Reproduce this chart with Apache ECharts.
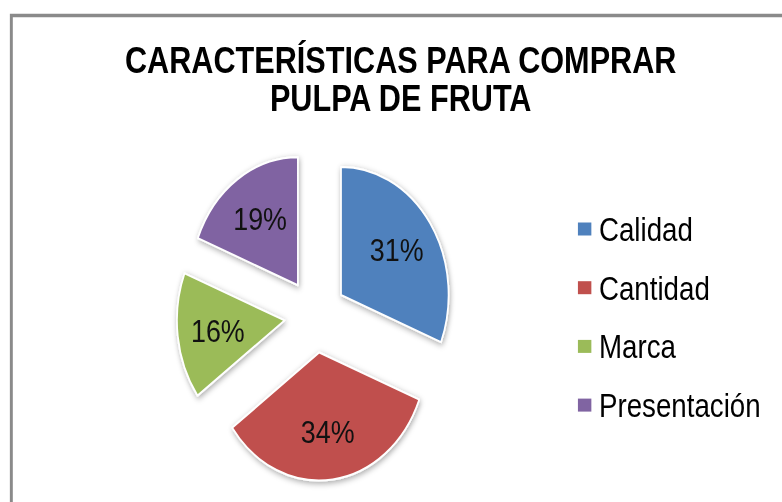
<!DOCTYPE html>
<html>
<head>
<meta charset="utf-8">
<script src="https://cdn.jsdelivr.net/npm/echarts@6/dist/echarts.min.js"></script>
<style>
  html, body { margin: 0; padding: 0; background: #ffffff; overflow: hidden; }
  #wrap { width: 782px; height: 502px; overflow: hidden; position: relative; }
  #chart { width: 931px; height: 502px; transform: scaleX(0.84); transform-origin: 0 0; }
</style>
</head>
<body>
<div id="wrap"><div id="chart"></div></div>
<script>
const titleText = 'CARACTERÍSTICAS PARA COMPRAR\nPULPA DE FRUTA';
const categories = ['Calidad', 'Cantidad', 'Marca', 'Presentación'];
const values = [31, 34, 16, 19];
const colors = ['#4F81BD', '#C0504D', '#9BBB59', '#8064A2'];

const FONT = '"Liberation Sans", Arial, sans-serif';

const chart = echarts.init(document.getElementById('chart'), null, { renderer: 'svg' });

const mainData = categories.map((name, i) => ({
  name: name,
  value: values[i],
  selected: true,
  itemStyle: { color: colors[i] }
}));
const labelData = categories.map((name, i) => ({
  name: name,
  value: values[i],
  selected: true
}));

const sliceStyle = {
  borderColor: '#ffffff',
  borderWidth: 2,
  shadowBlur: 6,
  shadowColor: 'rgba(0,0,0,0.35)',
  shadowOffsetX: 1,
  shadowOffsetY: 2
};

chart.setOption({
  animation: false,
  color: colors,
  title: {
    text: titleText,
    left: 477,
    top: 41,
    padding: 0,
    textAlign: 'center',
    textStyle: {
      fontFamily: FONT,
      fontWeight: 'bold',
      fontSize: 36.5,
      lineHeight: 38,
      color: '#000000'
    }
  },
  legend: {
    orient: 'vertical',
    left: 688,
    top: 209,
    padding: 0,
    itemWidth: 16,
    itemHeight: 13,
    itemGap: 18.7,
    icon: 'rect',
    itemStyle: { borderWidth: 0 },
    selectedMode: false,
    data: categories.map(n => ({ name: n, icon: 'rect' })),
    textStyle: {
      fontFamily: FONT,
      fontSize: 33,
      lineHeight: 40,
      color: '#000000',
      padding: [0, 0, 0, 4]
    }
  },
  graphic: [{
    type: 'rect',
    silent: true,
    z: -10,
    shape: { x: 13.5, y: 15.5, width: 1200, height: 800 },
    style: { fill: 'none', stroke: '#8a8a8a', lineWidth: 3.5 }
  }],
  series: [
    {
      name: 'main',
      type: 'pie',
      center: [375.4, 315.8],
      radius: 128,
      startAngle: 90,
      clockwise: true,
      selectedMode: 'multiple',
      selectedOffset: 37,
      avoidLabelOverlap: false,
      label: { show: false },
      labelLine: { show: false },
      itemStyle: sliceStyle,
      emphasis: { disabled: true, scale: false },
      select: { itemStyle: sliceStyle },
      data: mainData
    },
    {
      name: 'labels',
      type: 'pie',
      center: [375.4, 315.8],
      radius: [26, 128],
      startAngle: 90,
      clockwise: true,
      silent: true,
      selectedMode: 'multiple',
      selectedOffset: 37,
      avoidLabelOverlap: false,
      itemStyle: { color: 'rgba(0,0,0,0)', borderWidth: 0 },
      select: { itemStyle: { color: 'rgba(0,0,0,0)', borderWidth: 0 }, label: { show: true } },
      emphasis: { disabled: true, scale: false },
      label: {
        show: true,
        position: 'inside',
        formatter: '{d}%',
        fontFamily: FONT,
        fontSize: 32,
        color: '#111111'
      },
      labelLine: { show: false },
      data: labelData
    }
  ]
});
</script>
</body>
</html>
